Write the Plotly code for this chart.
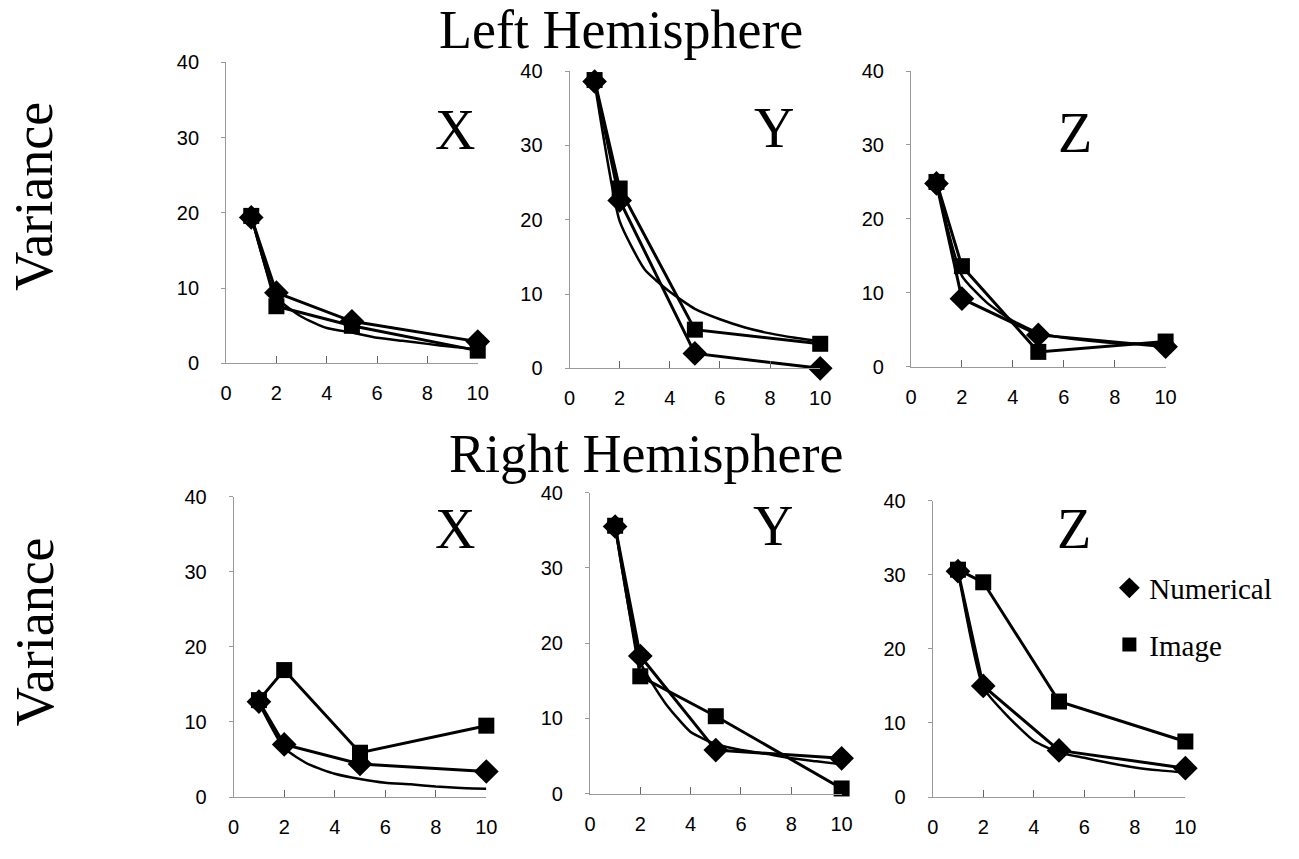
import plotly.graph_objects as go

W, H = 1299, 859

# ---------------- data ----------------
x_pts = [1, 2, 5, 10]
x_curve = [1, 2, 3, 4, 5, 6, 7, 8, 9, 10]

left_x_num = [19.4, 9.4, 5.6, 2.9]
left_x_img = [19.6, 7.6, 5.0, 1.7]
left_x_curve = [19.5, 8.8, 6.2, 4.7, 4.1, 3.4, 3.0, 2.6, 2.2, 1.9]

left_y_num = [38.6, 22.6, 2.0, 0.0]
left_y_img = [38.8, 24.2, 5.2, 3.3]
left_y_curve = [38.5, 19.8, 13.3, 10.3, 8.0, 6.6, 5.5, 4.7, 4.1, 3.6]

left_z_num = [24.8, 9.2, 4.3, 2.7]
left_z_img = [25.0, 13.6, 2.0, 3.4]
left_z_curve = [24.8, 12.3, 8.6, 6.2, 4.6, 3.9, 3.5, 3.2, 3.1, 3.0]

right_x_num = [12.7, 7.0, 4.4, 3.4]
right_x_img = [12.9, 16.9, 5.9, 9.5]
right_x_curve = [12.5, 6.5, 4.3, 3.1, 2.4, 1.9, 1.7, 1.4, 1.2, 1.1]

right_y_num = [35.5, 18.3, 5.8, 4.7]
right_y_img = [35.6, 15.6, 10.3, 0.7]
right_y_curve = [35.5, 17.5, 12.0, 8.2, 6.6, 5.8, 5.3, 4.7, 4.3, 3.9]

right_z_num = [30.5, 15.0, 6.3, 3.9]
right_z_img = [30.7, 29.0, 12.9, 7.5]
right_z_curve = [30.5, 14.8, 10.8, 7.6, 6.0, 5.3, 4.6, 4.0, 3.6, 3.3]

panel_labels = ["X", "Y", "Z", "X", "Y", "Z"]
x_ticks = [0, 2, 4, 6, 8, 10]
y_ticks = [0, 10, 20, 30, 40]

panels = [
    (left_x_num, left_x_img, left_x_curve),
    (left_y_num, left_y_img, left_y_curve),
    (left_z_num, left_z_img, left_z_curve),
    (right_x_num, right_x_img, right_x_curve),
    (right_y_num, right_y_img, right_y_curve),
    (right_z_num, right_z_img, right_z_curve),
]

# plot-area pixel boxes: (x0, x10, y0, y40)
boxes = [
    (223, 478, 361.7, 52.7),
    (571, 825, 366.7, 61.7),
    (917, 1175, 365.0, 61.7),
    (230.7, 486.7, 806.7, 498.3),
    (591.7, 846.7, 803.3, 494.3),
    (939, 1195, 806.7, 502.7),
]
label_pos = [(455, 122), (778, 120), (1083, 125), (455, 532), (777, 529), (1082, 532)]

fig = go.Figure()
serif = "Liberation Serif, Times New Roman, serif"
sans = "Liberation Sans, Arial, sans-serif"

for i, (num, img, curve) in enumerate(panels):
    k = "" if i == 0 else str(i + 1)
    xa, ya = "x" + k, "y" + k
    fig.add_trace(go.Scatter(x=x_curve, y=curve, mode="lines", xaxis=xa, yaxis=ya,
                             line=dict(color="black", width=2.5, shape="spline", smoothing=0.5),
                             showlegend=False, cliponaxis=False))
    fig.add_trace(go.Scatter(x=x_pts, y=num, mode="lines+markers", xaxis=xa, yaxis=ya,
                             line=dict(color="black", width=3),
                             marker=dict(symbol="diamond", size=19, color="black"),
                             showlegend=False, cliponaxis=False))
    fig.add_trace(go.Scatter(x=x_pts, y=img, mode="lines+markers", xaxis=xa, yaxis=ya,
                             line=dict(color="black", width=3),
                             marker=dict(symbol="square", size=16, color="black"),
                             showlegend=False, cliponaxis=False))
    x0, x10, y0, y40 = boxes[i]
    axis_common = dict(showgrid=False, zeroline=False, showline=True,
                       linecolor="#999999", linewidth=1,
                       tickfont=dict(family=sans, size=20, color="black"))
    fig.update_layout(**{
        "xaxis" + k: dict(domain=[x0 / W, x10 / W], range=[0, 10], anchor=ya,
                          tickvals=x_ticks, ticks="inside", ticklen=7, tickcolor="#666666",
                          ticklabelstandoff=12, **axis_common),
        "yaxis" + k: dict(domain=[1 - y0 / H, 1 - y40 / H], range=[0, 40], anchor=xa,
                          tickvals=y_ticks, ticks="outside", ticklen=4, tickcolor="#999999",
                          ticklabelstandoff=18, **axis_common),
    })
    lx, ly = label_pos[i]
    fig.add_annotation(text=panel_labels[i], x=lx / W, y=1 - ly / H, xref="paper", yref="paper",
                       showarrow=False, xanchor="center", yanchor="middle",
                       font=dict(family=serif, size=56, color="black"))

# legend entries
fig.add_trace(go.Scatter(x=[None], y=[None], mode="markers", name="Numerical",
                         marker=dict(symbol="diamond", size=16, color="black"),
                         legendgroup="a", xaxis="x6", yaxis="y6"))
fig.add_trace(go.Scatter(x=[None], y=[None], mode="markers", name="Image",
                         marker=dict(symbol="square", size=14, color="black"),
                         legendgroup="b", xaxis="x6", yaxis="y6"))

titles = [("Left Hemisphere", 623, 19), ("Right Hemisphere", 648, 455)]
for t, tx, ty in titles:
    fig.add_annotation(text=t, x=tx / W, y=1 - ty / H, xref="paper", yref="paper",
                       showarrow=False, xanchor="center", yanchor="middle",
                       font=dict(family=serif, size=54, color="black"))
for vy in [190, 637]:
    fig.add_annotation(text="Variance", x=29 / W, y=1 - vy / H, xref="paper", yref="paper",
                       showarrow=False, xanchor="center", yanchor="middle", textangle=-90,
                       font=dict(family=serif, size=54, color="black"))

fig.update_layout(
    width=W, height=H, margin=dict(l=0, r=0, t=0, b=0),
    paper_bgcolor="white", plot_bgcolor="white",
    showlegend=True,
    legend=dict(x=1118 / W, y=1 - 566 / H, xanchor="left", yanchor="top",
                font=dict(family=serif, size=29, color="black"),
                tracegroupgap=16, itemsizing="trace", bgcolor="rgba(0,0,0,0)"),
)

fig.write_html("out.html")
